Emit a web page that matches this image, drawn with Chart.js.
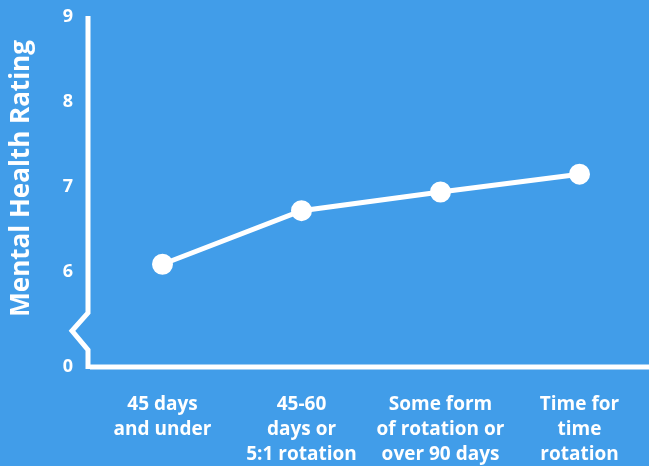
<!DOCTYPE html>
<html>
<head>
<meta charset="utf-8">
<script src="https://cdn.jsdelivr.net/npm/chart.js@4"></script>
<style>
  html, body { margin: 0; padding: 0; background: #419de9; }
  #wrap { width: 649px; height: 466px; }
</style>
</head>
<body>
<div id="wrap"><canvas id="chart" width="649" height="466"></canvas></div>
<script>
// Chart data
const categories = [
  ["45 days", "and under"],
  ["45-60", "days or", "5:1 rotation"],
  ["Some form", "of rotation or", "over 90 days"],
  ["Time for", "time", "rotation"],
];
const ratings = [6.09, 6.72, 6.94, 7.15];
const yTicks = [6, 7, 8, 9];
const yBreakValue = 4.88; // where the "0" sits below the axis break
const yTitle = "Mental Health Rating";

const white = "#ffffff";
const fontFamily = "'Open Sans', Lato, sans-serif";

// draws the white axes with the break zig-zag, plus the y title
const axisPlugin = {
  id: "brokenAxis",
  afterDraw(chart) {
    const ctx = chart.ctx;
    const area = chart.chartArea;
    const y = chart.scales.y;
    const x0 = area.left - 5;
    const yBottom = y.getPixelForValue(yBreakValue);
    const y6 = y.getPixelForValue(6);
    ctx.save();
    ctx.strokeStyle = white;
    ctx.lineWidth = 5;
    ctx.lineJoin = "miter";
    ctx.beginPath();
    ctx.moveTo(x0, area.top - 1);
    ctx.lineTo(x0, y6 + 41);
    ctx.lineTo(x0 - 16, y6 + 59);
    ctx.lineTo(x0, y6 + 78);
    ctx.lineTo(x0, yBottom + 2);
    ctx.stroke();
    ctx.beginPath();
    ctx.moveTo(x0 + 2, yBottom);
    ctx.lineTo(chart.width, yBottom);
    ctx.stroke();

    // rotated axis title, placed a bit above the scale's middle like the original
    ctx.translate(22, (area.top + y6) / 2 + 34);
    ctx.rotate(-Math.PI / 2);
    ctx.fillStyle = white;
    ctx.font = "bold 26px " + fontFamily;
    ctx.textAlign = "center";
    ctx.textBaseline = "middle";
    ctx.fillText(yTitle, 0, 0);
    ctx.restore();
  },
};

new Chart(document.getElementById("chart").getContext("2d"), {
  type: "line",
  data: {
    labels: categories,
    datasets: [
      {
        data: ratings,
        borderColor: white,
        borderWidth: 5,
        pointBackgroundColor: white,
        pointBorderColor: white,
        pointRadius: 8,
        tension: 0,
      },
    ],
  },
  options: {
    responsive: false,
    animation: false,
    layout: { autoPadding: false, padding: { top: 17, right: 0, left: 0, bottom: 0 } },
    plugins: {
      legend: { display: false },
      tooltip: { enabled: false },
    },
    scales: {
      x: {
        offset: true,
        grid: { display: false, drawTicks: false },
        border: { display: false },
        ticks: {
          color: white,
          padding: 25,
          maxRotation: 0,
          font: { family: fontFamily, size: 19, weight: "bold", lineHeight: 1.32 },
        },
        afterFit(scale) {
          scale.height = 99;
          scale.paddingLeft = 0;
          scale.paddingRight = 0;
        },
      },
      y: {
        min: yBreakValue,
        max: 9,
        grid: { display: false, drawTicks: false },
        border: { display: false },
        afterBuildTicks(scale) {
          scale.ticks = [yBreakValue].concat(yTicks).map((v) => ({ value: v }));
        },
        ticks: {
          color: white,
          padding: 20,
          font: { family: fontFamily, size: 18, weight: "bold" },
          callback: (v) => (v < 5 ? "0" : v),
        },
        afterFit(scale) {
          scale.width = 93;
          scale.paddingTop = 0;
          scale.paddingBottom = 0;
        },
      },
    },
  },
  plugins: [axisPlugin],
});
</script>
</body>
</html>
